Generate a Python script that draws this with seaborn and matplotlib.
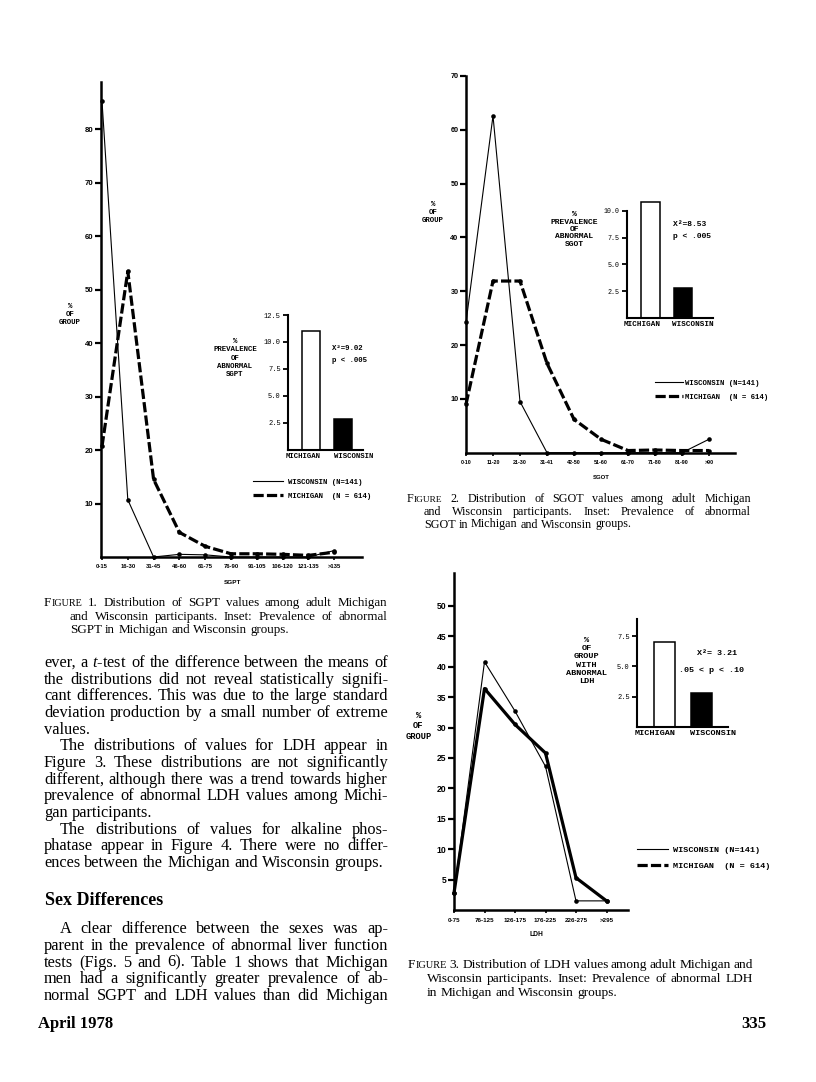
import matplotlib
import matplotlib.pyplot as plt
import numpy as np
import seaborn as sns
from matplotlib.lines import Line2D

matplotlib.use("Agg")

W, H, DPI = 816, 1082, 100

# --- chart data ---
sgpt_bins = ["0-15", "16-30", "31-45", "46-60", "61-75", "76-90", "91-105", "106-120", "121-135", ">135"]
sgpt_wisconsin = [85.2, 10.7, 0.0, 0.5, 0.4, 0.0, 0.0, 0.0, 0.0, 1.2]
sgpt_michigan = [20.7, 53.4, 14.5, 4.6, 2.0, 0.6, 0.6, 0.5, 0.3, 0.9]

sgot_bins = ["0-10", "11-20", "21-30", "31-41", "42-50", "51-60", "61-70", "71-80", "81-90", ">90"]
sgot_wisconsin = [24.2, 62.6, 9.5, 0.0, 0.0, 0.0, 0.0, 0.0, 0.0, 2.5]
sgot_michigan = [9.0, 31.9, 31.9, 16.6, 6.2, 2.5, 0.4, 0.5, 0.4, 0.4]

ldh_bins = ["0-75", "76-125", "126-175", "176-225", "226-275", ">295"]
ldh_wisconsin = [2.8, 40.8, 32.7, 23.6, 1.5, 1.5]
ldh_michigan = [2.8, 36.4, 30.5, 25.8, 5.3, 1.5]

groups = ["MICHIGAN", "WISCONSIN"]
abnormal_sgpt = [11.0, 2.8]
abnormal_sgot = [10.8, 2.8]
abnormal_ldh = [7.0, 2.85]

legend_labels = ["WISCONSIN (N=141)", "MICHIGAN  (N = 614)"]

# --- page text ---
caption1 = ["FIGURE 1. Distribution of SGPT values among adult Michigan",
            "and Wisconsin participants. Inset: Prevalence of abnormal",
            "SGPT in Michigan and Wisconsin groups."]
caption2 = ["FIGURE 2. Distribution of SGOT values among adult Michigan",
            "and Wisconsin participants. Inset: Prevalence of abnormal",
            "SGOT in Michigan and Wisconsin groups."]
caption3 = ["FIGURE 3. Distribution of LDH values among adult Michigan and",
            "Wisconsin participants. Inset: Prevalence of abnormal LDH",
            "in Michigan and Wisconsin groups."]
# (text, indented, justified)
body1 = [
    ("ever, a $\\mathit{t}$-test of the difference between the means of", False, True),
    ("the distributions did not reveal statistically signifi-", False, True),
    ("cant differences. This was due to the large standard", False, True),
    ("deviation production by a small number of extreme", False, True),
    ("values.", False, False),
    ("The distributions of values for LDH appear in", True, True),
    ("Figure 3. These distributions are not significantly", False, True),
    ("different, although there was a trend towards higher", False, True),
    ("prevalence of abnormal LDH values among Michi-", False, True),
    ("gan participants.", False, False),
    ("The distributions of values for alkaline phos-", True, True),
    ("phatase appear in Figure 4. There were no differ-", False, True),
    ("ences between the Michigan and Wisconsin groups.", False, False),
]
body2 = [
    ("A clear difference between the sexes was ap-", True, True),
    ("parent in the prevalence of abnormal liver function", False, True),
    ("tests (Figs. 5 and 6). Table 1 shows that Michigan", False, True),
    ("men had a significantly greater prevalence of ab-", False, True),
    ("normal SGPT and LDH values than did Michigan", False, True),
]

plt.rcParams["mathtext.fontset"] = "custom"
plt.rcParams["mathtext.rm"] = "Liberation Serif"
plt.rcParams["mathtext.it"] = "Liberation Serif:italic"

SERIF = "Liberation Serif"
MONO = "Liberation Mono"
SANS = "Liberation Sans"

fig = plt.figure(figsize=(W / DPI, H / DPI), dpi=DPI)
fig.patch.set_facecolor("white")
renderer = fig.canvas.get_renderer()


def px_axes(left, top, right, bottom):
    return fig.add_axes([left / W, 1 - bottom / H, (right - left) / W, (bottom - top) / H])


def ftext(x, y, s, **kw):
    return fig.text(x / W, 1 - y / H, s, **kw)


def main_chart(box, p0, step, ymax, bins, wis, mic, mic_ls, yticks, ysize, xsize, xpad):
    left, top, right, bottom = box
    ax = px_axes(left, top, right, bottom)
    xs = np.arange(len(bins))
    sns.lineplot(x=xs, y=wis, ax=ax, color="black", lw=0.8, marker="o", markersize=3.3,
                 markeredgewidth=0, clip_on=False)
    sns.lineplot(x=xs, y=mic, ax=ax, color="black", lw=2.3, linestyle=mic_ls, marker="o",
                 markersize=3.3, markeredgewidth=0, clip_on=False)
    ax.set_xlim((left - p0) / step, (right - p0) / step)
    ax.set_ylim(0, ymax)
    ax.set_yticks(yticks)
    ax.set_yticklabels([str(v) for v in yticks], fontsize=ysize, family=SANS, weight="bold")
    ax.set_xticks(xs)
    ax.set_xticklabels(bins, fontsize=xsize, family=SANS, weight="bold")
    ax.tick_params(axis="y", direction="out", length=4, width=1.6, pad=1.5)
    ax.tick_params(axis="x", direction="out", length=2.5, width=1.2, pad=xpad)
    sns.despine(ax=ax)
    for side in ["left", "bottom"]:
        ax.spines[side].set_linewidth(1.8)
    ax.set_xlabel("")
    ax.set_ylabel("")
    ax.patch.set_alpha(0)
    return ax


def inset_chart(box, p0, step, ymax, vals, yticks, tsize, lsize):
    left, top, right, bottom = box
    ax = px_axes(left, top, right, bottom)
    sns.barplot(x=groups, y=vals, hue=groups, palette=["white", "black"], saturation=1,
                edgecolor="black", linewidth=1.1, width=0.56, legend=False, ax=ax, clip_on=False)
    ax.set_xlim((left - p0) / step, (right - p0) / step)
    ax.set_ylim(0, ymax)
    ax.set_yticks(yticks)
    ax.set_yticklabels([f"{v:.1f}" for v in yticks], fontsize=tsize, family=MONO)
    ax.set_xticks([-0.25, 1.32])
    ax.set_xticklabels(groups, fontsize=lsize, family=MONO, weight="bold")
    ax.tick_params(axis="y", direction="out", length=3.5, width=1.3, pad=1.5)
    ax.tick_params(axis="x", length=0, pad=2.5)
    sns.despine(ax=ax)
    for side in ["left", "bottom"]:
        ax.spines[side].set_linewidth(1.5)
    ax.set_xlabel("")
    ax.set_ylabel("")
    ax.patch.set_alpha(0)
    return ax


def add_legend(x, y, size, hlen, pad, spacing, mic_ls):
    handles = [Line2D([], [], color="black", lw=0.8),
               Line2D([], [], color="black", lw=2.3, linestyle=mic_ls)]
    fig.legend(handles, legend_labels, loc="center left", bbox_to_anchor=(x / W, 1 - y / H),
               frameon=False, prop={"family": MONO, "weight": "bold", "size": size},
               handlelength=hlen, handletextpad=pad, labelspacing=spacing,
               borderpad=0, borderaxespad=0)


DASH = (0, (3.2, 1.0))

# Figure 1 (SGPT)
main_chart((101, 82, 362, 557), 102, 25.8, 88.8, sgpt_bins, sgpt_wisconsin, sgpt_michigan, DASH,
           list(range(10, 90, 10)), 5.6, 4.2, 2.5)
inset_chart((287.7, 315, 363, 449.5), 311.3, 32, 12.5, abnormal_sgpt, [2.5, 5.0, 7.5, 10.0, 12.5], 5.0, 5.3)
add_legend(253, 489, 5.3, 4.1, 0.6, 0.95, DASH)
ftext(70, 315, "%\nOF\nGROUP", ha="center", va="center", family=MONO, weight="bold", size=5.3, linespacing=1.2)
ftext(235, 358, "%\nPREVALENCE\nOF\nABNORMAL\nSGPT", ha="center", va="center", family=MONO,
      weight="bold", size=5.3, linespacing=1.25)
ftext(331.7, 348, "X²=9.02", va="center", family=MONO, weight="bold", size=5.3)
ftext(331.7, 360, "p < .005", va="center", family=MONO, weight="bold", size=5.3)
ftext(232.7, 582.7, "SGPT", ha="center", va="center", family=SANS, weight="bold", size=4.6)

# Figure 2 (SGOT)
main_chart((466, 76, 735, 452.7), 466, 27, 70, sgot_bins, sgot_wisconsin, sgot_michigan, DASH,
           list(range(10, 80, 10)), 5.2, 3.9, 2.5)
inset_chart((626.7, 210.7, 713.3, 318), 650.5, 32.3, 10, abnormal_sgot, [2.5, 5.0, 7.5, 10.0], 4.8, 5.5)
add_legend(655, 390, 5.3, 3.8, 0.25, 0.95, DASH)
ftext(433, 212, "%\nOF\nGROUP", ha="center", va="center", family=MONO, weight="bold", size=5.3, linespacing=1.2)
ftext(574.3, 229.5, "%\nPREVALENCE\nOF\nABNORMAL\nSGOT", ha="center", va="center", family=MONO,
      weight="bold", size=5.8, linespacing=1.1)
ftext(673.3, 224, "X²=8.53", va="center", family=MONO, weight="bold", size=5.8)
ftext(673.3, 237, "p < .005", va="center", family=MONO, weight="bold", size=5.8)
ftext(601.7, 477.7, "SGOT", ha="center", va="center", family=SANS, weight="bold", size=4.3)

# Figure 3 (LDH)
main_chart((454, 573, 628, 910), 454, 30.5, 55.4, ldh_bins, ldh_wisconsin, ldh_michigan, "-",
           list(range(5, 55, 5)), 6.2, 4.5, 3.5)
inset_chart((636.7, 619.3, 728.3, 727), 664.7, 37, 8.9, abnormal_ldh, [2.5, 5.0, 7.5], 5.0, 6.1)
add_legend(637.3, 858.2, 6.1, 3.6, 0.6, 1.0, DASH)
ftext(418.3, 726, "%\nOF\nGROUP", ha="center", va="center", family=MONO, weight="bold", size=6.3, linespacing=1.2)
ftext(586.7, 661, "%\nOF\nGROUP\nWITH\nABNORMAL\nLDH", ha="center", va="center", family=MONO,
      weight="bold", size=6.1, linespacing=1.25)
ftext(696.7, 653.3, "X²= 3.21", va="center", family=MONO, weight="bold", size=6.0)
ftext(679.3, 670, ".05 < p < .10", va="center", family=MONO, weight="bold", size=6.0)
ftext(536, 934, "LDH", ha="center", va="center", family=SANS, weight="bold", size=4.8)


# --- justified serif text set word by word ---
def text_width(s, size, weight="normal"):
    t = fig.text(0, 0, s, size=size, family=SERIF, weight=weight)
    w = t.get_window_extent(renderer).width
    t.remove()
    return w


def put_line(text, x0, x1, y, size, justify=True, smallcaps=False, weight="normal"):
    words = text.split(" ")
    pieces = []
    for i, w in enumerate(words):
        if smallcaps and i == 0:
            parts = [(w[0], size), (w[1:], size * 0.78)]
        else:
            parts = [(w, size)]
        objs = [ftext(0, y, p, size=s, family=SERIF, weight=weight, va="baseline") for p, s in parts]
        pieces.append(objs)
    widths = [sum(o.get_window_extent(renderer).width for o in objs) for objs in pieces]
    space = text_width("a b", size) - text_width("ab", size)
    gap = (x1 - x0 - sum(widths)) / (len(words) - 1) if justify and len(words) > 1 else space
    x = x0
    for objs, w in zip(pieces, widths):
        xx = x
        for o in objs:
            o.set_x(xx / W)
            xx += o.get_window_extent(renderer).width
        x += w + gap


def put_caption(lines, x_first, x_rest, x1, y0, step, size):
    for i, line in enumerate(lines):
        put_line(line, x_first if i == 0 else x_rest, x1, y0 + i * step, size,
                 justify=i < len(lines) - 1, smallcaps=i == 0)


put_caption(caption1, 44, 70, 387, 606, 13.6, 9.4)
put_caption(caption2, 407, 424, 751, 501.7, 12.9, 8.7)
put_caption(caption3, 408, 427, 753, 968.3, 13.8, 9.6)

BODY = 11.8
for i, (line, indent, just) in enumerate(body1):
    put_line(line, 60 if indent else 44, 388, 667 + i * 16.67, BODY, justify=just)
ftext(45, 905, "Sex Differences", family=SERIF, weight="bold", size=13, va="baseline")
for i, (line, indent, just) in enumerate(body2):
    put_line(line, 60 if indent else 44, 388, 933.3 + i * 16.67, BODY, justify=just)
ftext(38, 1028.5, "April 1978", family=SERIF, weight="bold", size=12, va="baseline")
ftext(766, 1028.5, "335", family=SERIF, weight="bold", size=12, va="baseline", ha="right")

fig.savefig("out.png", dpi=DPI, facecolor="white")
